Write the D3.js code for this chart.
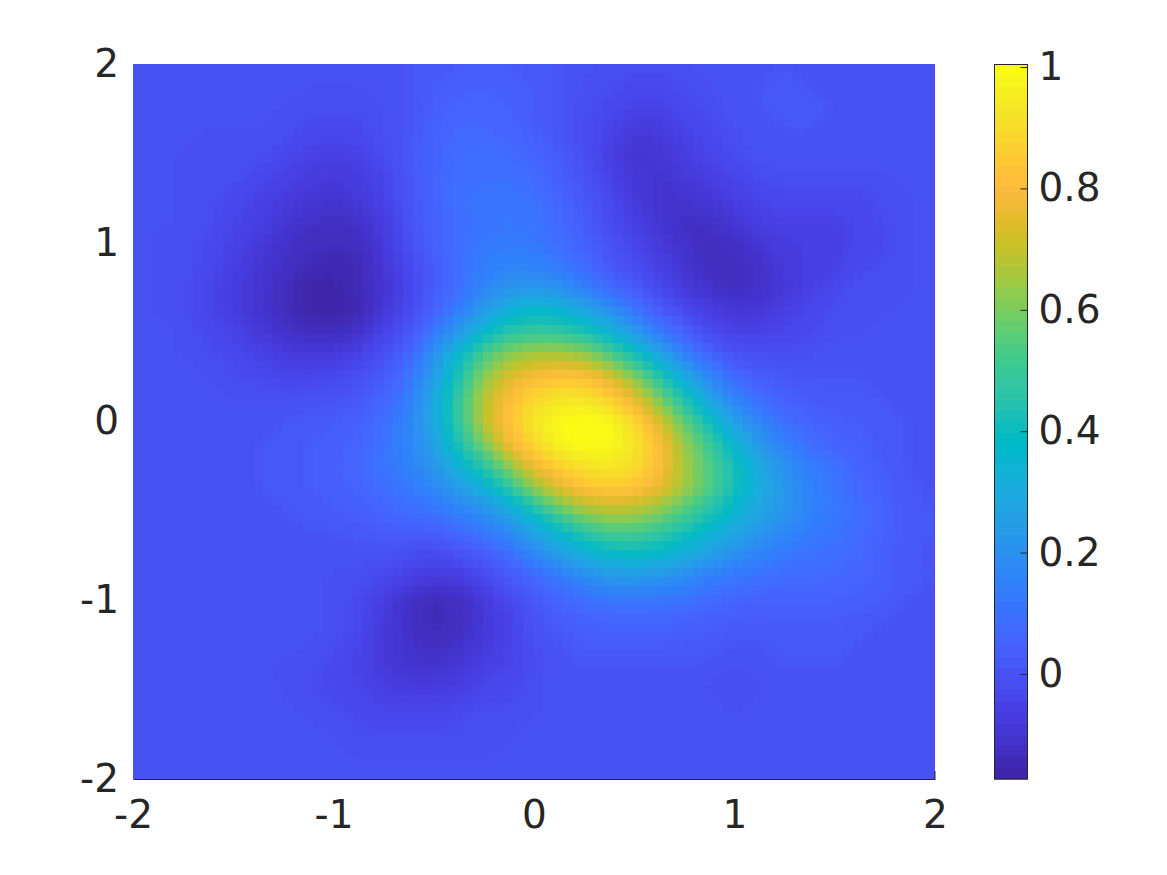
<!DOCTYPE html>
<html><head><meta charset="utf-8">
<script src="https://cdn.jsdelivr.net/npm/d3@7"></script>
<style>html,body{margin:0;background:#fff}svg{display:block}text{font-family:"DejaVu Sans",sans-serif}</style>
</head><body><svg id="c" width="1167" height="875"></svg>
<script>
// Field values (hundredths), rows y = 2 … -2, columns x = -2 … 2, step 0.125
const gridStep = 0.125;
const field = [
[0,0,0,0,0,0,0,0,0,0,0,1,2,3,3,3,2,1,0,-1,-2,-2,-1,0,0,1,1,1,1,0,0,0,0],
[0,0,0,0,0,0,0,-1,-1,-1,0,1,3,4,5,4,3,1,-1,-2,-3,-3,-2,-1,0,1,2,1,1,0,0,0,0],
[0,0,0,0,0,0,-1,-2,-2,-2,-1,1,4,6,6,5,3,1,-2,-3,-5,-5,-3,-2,0,1,2,2,1,0,0,0,0],
[0,0,0,-1,-1,-1,-2,-3,-3,-3,-1,1,5,7,7,6,4,1,-2,-5,-8,-8,-5,-3,-1,0,1,1,0,0,0,0,0],
[0,0,-1,-1,-2,-2,-3,-5,-6,-5,-2,2,6,8,9,8,6,3,-1,-6,-10,-9,-7,-4,-2,0,0,0,0,0,0,0,0],
[0,0,-1,-1,-2,-3,-5,-7,-8,-7,-4,1,6,9,10,10,8,4,0,-5,-9,-10,-8,-6,-4,-2,-1,-1,-1,-1,-1,0,0],
[0,0,-1,-2,-3,-5,-7,-9,-10,-8,-5,1,6,10,11,11,10,6,2,-3,-8,-10,-10,-9,-6,-4,-3,-3,-3,-3,-2,-1,0],
[0,0,-1,-2,-4,-6,-9,-11,-12,-11,-7,0,5,9,11,12,11,8,3,-2,-6,-10,-12,-11,-9,-6,-5,-5,-5,-4,-2,-1,0],
[0,-1,-1,-3,-5,-8,-11,-13,-13,-13,-8,-1,5,9,12,13,12,9,5,0,-4,-8,-11,-13,-12,-9,-7,-6,-5,-4,-3,-1,0],
[0,-1,-2,-3,-6,-9,-12,-14,-15,-14,-9,-3,3,9,14,16,15,12,8,2,-2,-6,-10,-13,-13,-11,-8,-6,-5,-3,-2,-1,0],
[0,-1,-2,-4,-7,-10,-13,-16,-16,-14,-10,-4,3,9,16,21,22,20,14,8,3,-3,-8,-11,-13,-11,-9,-6,-3,-2,-1,-1,0],
[0,-1,-2,-4,-7,-10,-13,-16,-17,-15,-9,-3,5,14,24,33,37,35,28,20,11,3,-3,-7,-9,-9,-6,-4,-2,-1,-1,0,0],
[0,0,-1,-3,-5,-8,-11,-13,-13,-11,-5,1,12,24,37,46,49,48,44,35,24,13,5,-2,-5,-5,-4,-3,-1,-1,0,0,0],
[0,0,-1,-2,-3,-5,-7,-8,-8,-5,-1,6,20,37,53,62,66,67,63,54,42,28,15,6,0,-1,-1,-1,0,0,0,0,0],
[0,0,0,-1,-2,-3,-4,-4,-3,-1,3,10,25,44,62,74,80,83,82,74,61,46,30,17,8,3,2,1,1,1,0,0,0],
[0,0,0,0,-1,-1,-1,0,0,2,6,13,29,49,68,81,89,93,93,87,76,60,44,28,16,9,5,3,2,2,1,0,0],
[0,0,0,0,0,0,1,2,3,5,9,16,29,48,69,83,94,99,101,99,89,73,56,40,26,16,9,6,4,3,2,1,0],
[0,0,0,0,0,1,2,3,4,6,10,16,26,44,60,78,89,97,100,99,93,81,64,50,35,23,15,9,6,4,2,1,0],
[0,0,0,0,0,1,2,3,4,7,11,15,22,34,47,62,77,87,92,94,91,81,66,54,42,30,20,14,10,6,3,1,0],
[0,0,0,0,0,1,2,3,4,6,9,12,17,24,33,46,62,74,82,85,83,76,65,54,42,31,22,15,11,7,4,2,0],
[0,0,0,0,0,1,1,2,3,4,6,9,11,15,20,29,42,55,64,68,67,62,54,45,36,28,22,16,12,9,5,2,1],
[0,0,0,0,0,0,0,1,1,2,3,3,4,7,11,17,27,37,46,52,52,48,42,35,28,22,17,13,11,8,5,2,1],
[0,0,0,0,0,0,0,0,0,0,0,-2,-3,-1,3,8,16,24,31,36,38,36,31,25,19,15,12,10,9,7,4,2,0],
[0,0,0,0,0,0,0,0,-1,-2,-3,-6,-8,-7,-3,2,7,12,18,22,23,21,18,14,12,10,8,8,7,6,4,2,1],
[0,0,0,0,0,0,0,0,-1,-3,-7,-11,-14,-13,-8,-3,2,6,9,11,11,11,10,8,6,5,5,5,5,4,3,1,0],
[0,0,0,0,0,0,0,0,-1,-3,-8,-12,-14,-13,-9,-5,0,3,5,6,6,6,5,4,3,3,3,3,3,2,1,1,0],
[0,0,0,0,0,0,0,-1,-2,-4,-8,-11,-13,-11,-8,-5,-1,1,3,3,3,3,2,2,1,1,2,2,2,1,1,0,0],
[0,0,0,0,0,0,-1,-2,-3,-5,-8,-10,-10,-9,-6,-4,-2,0,1,1,1,1,1,0,-1,0,1,1,1,1,0,0,0],
[0,0,0,0,0,0,-1,-2,-3,-4,-6,-7,-7,-6,-4,-3,-1,0,0,0,0,0,0,-1,-2,-1,0,0,0,0,0,0,0],
[0,0,0,0,0,0,0,-1,-2,-3,-4,-4,-4,-3,-2,-2,-1,0,0,0,0,0,0,0,-1,0,0,0,0,0,0,0,0],
[0,0,0,0,0,0,0,0,-1,-2,-2,-2,-2,-2,-1,-1,0,0,0,0,0,0,0,0,0,0,0,0,0,0,0,0,0],
[0,0,0,0,0,0,0,0,0,-1,-1,-1,-1,-1,-1,0,0,0,0,0,0,0,0,0,0,0,0,0,0,0,0,0,0],
[0,0,0,0,0,0,0,0,0,0,0,0,0,0,0,0,0,0,0,0,0,0,0,0,0,0,0,0,0,0,0,0,0]
];
const colorLimits = [-0.173, 1.005];
const xTicks = [-2,-1,0,1,2];
const yTicks = [-2,-1,0,1,2];
const barTicks = [0,0.2,0.4,0.6,0.8,1];
const parula = [
[.2422,.1504,.6603],[.2504,.1650,.7076],[.2578,.1818,.7511],[.2647,.1978,.7952],[.2706,.2147,.8364],[.2751,.2342,.8710],[.2783,.2559,.8991],[.2803,.2782,.9221],
[.2813,.3006,.9414],[.2810,.3228,.9579],[.2795,.3447,.9717],[.2760,.3667,.9829],[.2699,.3892,.9906],[.2602,.4123,.9952],[.2440,.4358,.9988],[.2206,.4603,.9973],
[.1963,.4847,.9892],[.1834,.5074,.9798],[.1786,.5289,.9682],[.1764,.5499,.9520],[.1687,.5703,.9359],[.1540,.5902,.9218],[.1460,.6091,.9079],[.1380,.6276,.8973],
[.1248,.6459,.8883],[.1113,.6635,.8763],[.0952,.6798,.8598],[.0689,.6948,.8394],[.0297,.7082,.8163],[.0036,.7203,.7917],[.0067,.7312,.7660],[.0433,.7411,.7394],
[.0964,.7500,.7120],[.1408,.7584,.6842],[.1717,.7670,.6554],[.1938,.7758,.6251],[.2161,.7843,.5923],[.2470,.7918,.5567],[.2906,.7973,.5188],[.3406,.8008,.4789],
[.3909,.8029,.4354],[.4456,.8024,.3909],[.5044,.7993,.3480],[.5616,.7942,.3045],[.6174,.7876,.2612],[.6720,.7793,.2227],[.7242,.7698,.1910],[.7738,.7598,.1646],
[.8203,.7498,.1535],[.8634,.7406,.1596],[.9035,.7330,.1774],[.9393,.7288,.2100],[.9728,.7298,.2394],[.9956,.7434,.2371],[.9970,.7659,.2199],[.9952,.7861,.1989],
[.9892,.8136,.1885],[.9786,.8386,.1766],[.9676,.8639,.1643],[.9610,.8890,.1537],[.9597,.9135,.1423],[.9628,.9373,.1265],[.9691,.9606,.1064],[.9769,.9839,.0805]
];

const ink = "#262626", fontSize = 39;
const svg = d3.select("#c");
const x = d3.scaleLinear([-2,2],[133,935]);
const y = d3.scaleLinear([-2,2],[779,64]);
const rgb = c => d3.rgb(c[0]*255,c[1]*255,c[2]*255).formatHex();
const step = (colorLimits[1]-colorLimits[0])/parula.length;
const levels = parula.map((c,i)=>colorLimits[0]+i*step);

const defs = svg.append("defs");
defs.append("clipPath").attr("id","plot").append("rect")
  .attr("x",x(-2)).attr("y",y(2)).attr("width",x(2)-x(-2)).attr("height",y(-2)-y(2));
// soften facets of the coarse read-off grid, then show it as the reference's small blocks
const fr = {x:x(-2)-20,y:y(2)-20,width:x(2)-x(-2)+40,height:y(-2)-y(2)+40,filterUnits:"userSpaceOnUse",primitiveUnits:"userSpaceOnUse"};
const soft = defs.append("filter").attr("id","soft").attr("color-interpolation-filters","sRGB");
Object.entries(fr).forEach(([k,v])=>soft.attr(k,v));
soft.append("feGaussianBlur").attr("stdDeviation",4);
const blockW = 10, blockH = 9;
const blocks = defs.append("filter").attr("id","blocks").attr("color-interpolation-filters","sRGB");
Object.entries(fr).forEach(([k,v])=>blocks.attr(k,v));
blocks.append("feFlood").attr("x",x(-2)+4).attr("y",y(2)+4).attr("width",2).attr("height",1).attr("flood-color","#000");
blocks.append("feComposite").attr("x",x(-2)).attr("y",y(2)).attr("width",blockW).attr("height",blockH);
blocks.append("feTile").attr("result","grid");
blocks.append("feComposite").attr("in","SourceGraphic").attr("in2","grid").attr("operator","in");
blocks.append("feMorphology").attr("operator","dilate").attr("radius","4 4");

// filled bands, one per colormap level
const nx = field[0].length, ny = field.length;
const flat = field.flat().map(v=>v/100);
const contours = d3.contours().size([nx,ny]).thresholds(levels)(flat);
const project = d3.geoPath(d3.geoTransform({point(cx,cy){
  this.stream.point(x(-2+(cx-0.5)*gridStep), y(2-(cy-0.5)*gridStep));
}}));
svg.append("rect").attr("x",x(-2)).attr("y",y(2)).attr("width",x(2)-x(-2)).attr("height",y(-2)-y(2)).attr("fill",rgb(parula[9]));
svg.append("g").attr("clip-path","url(#plot)")
  .append("g").attr("filter","url(#blocks)")
  .append("g").attr("filter","url(#soft)")
  .selectAll("path").data(contours).join("path")
  .attr("d",project)
  .attr("fill",(d,i)=>rgb(parula[i]));

// axes
const gx = svg.append("g").attr("transform",`translate(0,${y(-2)})`)
  .call(d3.axisBottom(x).tickValues(xTicks).tickSize(0).tickPadding(21).tickFormat(d=>String(d)));
const gy = svg.append("g").attr("transform",`translate(${x(-2)},0)`)
  .call(d3.axisLeft(y).tickValues(yTicks).tickSize(0).tickPadding(14).tickFormat(d=>String(d)));
gy.select(".domain").remove();
gx.select(".domain").attr("stroke",ink).attr("stroke-width",1);
[gx,gy].forEach(g=>g.selectAll("text").attr("fill",ink).style("font-size",fontSize+"px").style("font-family",'"DejaVu Sans",sans-serif'));
svg.append("line").attr("x1",x(2)).attr("x2",x(2)).attr("y1",y(-2)).attr("y2",y(-2)-8).attr("stroke",ink);

// colorbar
const barX = [994.5,1027.5];
const cb = d3.scaleLinear(colorLimits,[779,64]);
svg.append("g").selectAll("rect").data(parula).join("rect")
  .attr("x",barX[0]).attr("width",barX[1]-barX[0])
  .attr("y",(d,i)=>cb(levels[i]+step)).attr("height",(d,i)=>cb(levels[i])-cb(levels[i]+step)+0.6)
  .attr("fill",d=>rgb(d));
svg.append("rect").attr("x",barX[0]).attr("y",64.5).attr("width",barX[1]-barX[0]).attr("height",714.5)
  .attr("fill","none").attr("stroke",ink).attr("stroke-width",1);
const gb = svg.append("g").attr("transform",`translate(${barX[1]},0)`)
  .call(d3.axisRight(cb).tickValues(barTicks).tickSize(-7).tickPadding(11).tickFormat(d=>String(d)));
gb.select(".domain").remove();
gb.selectAll("line").attr("stroke",ink);
gb.selectAll("text").attr("fill",ink).style("font-size",fontSize+"px").style("font-family",'"DejaVu Sans",sans-serif');
</script></body></html>
